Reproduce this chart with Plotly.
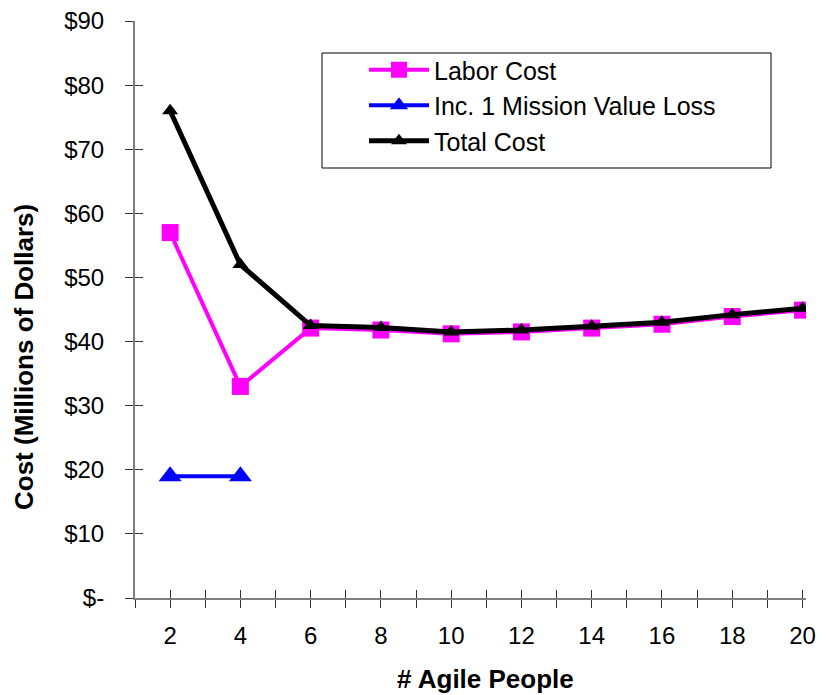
import plotly.graph_objects as go

agile_people = [2, 4, 6, 8, 10, 12, 14, 16, 18, 20]
labor_cost = [57.0, 33.0, 42.1, 41.8, 41.2, 41.5, 42.1, 42.7, 43.9, 44.9]
mission_loss_x = [2, 4]
mission_loss = [19.0, 19.0]
total_cost = [76.0, 52.0, 42.5, 42.2, 41.5, 41.8, 42.4, 43.0, 44.2, 45.2]

y_tickvals = [0, 10, 20, 30, 40, 50, 60, 70, 80, 90]
y_ticktext = ["$-", "$10", "$20", "$30", "$40", "$50", "$60", "$70", "$80", "$90"]
x_tickvals = list(range(1, 21))
x_ticktext = [str(v) if v % 2 == 0 else "" for v in x_tickvals]
x_title = "# Agile People"
y_title = "Cost (Millions of Dollars)"

FONT = "Arial, Liberation Sans, sans-serif"
# the page has an 8px body margin, so the figure is drawn 8px smaller and offset
PAGE_OFF = 8
W, H = 829 - PAGE_OFF, 695 - PAGE_OFF
L, R, T, B = 135 - PAGE_OFF, 23, 21 - PAGE_OFF, 97
PW, PH = W - L - R, H - T - B
PL, PB = 135, 21 + PH  # plot-area left / bottom in page pixels


def px(xp):
    return (xp - PL) / PW


def py(yp):
    return (PB - yp) / PH


fig = go.Figure()
fig.add_trace(go.Scatter(
    x=agile_people, y=labor_cost, name="Labor Cost", mode="lines+markers",
    line=dict(color="#FF00FF", width=4),
    marker=dict(symbol="square", size=17, color="#FF00FF")))
fig.add_trace(go.Scatter(
    x=mission_loss_x, y=mission_loss, name="Inc. 1 Mission Value Loss", mode="lines+markers",
    line=dict(color="#0000FF", width=4),
    marker=dict(symbol="triangle-up", size=20, color="#0000FF")))
fig.add_trace(go.Scatter(
    x=agile_people, y=total_cost, name="Total Cost", mode="lines+markers",
    line=dict(color="#000000", width=5),
    marker=dict(symbol="triangle-up", size=14, color="#000000")))
# helper trace for the inner half of the crossing tick marks
fig.add_trace(go.Scatter(x=[1], y=[0], xaxis="x2", yaxis="y2", mode="markers",
                         marker=dict(opacity=0), showlegend=False, hoverinfo="skip"))

fig.update_layout(
    width=W, height=H,
    margin=dict(l=L, r=R, t=T, b=B, autoexpand=False),
    paper_bgcolor="white", plot_bgcolor="white",
    font=dict(family=FONT, size=24, color="black"),
    showlegend=True,
    legend=dict(x=px(364), y=py(47), xanchor="left", yanchor="top",
                bgcolor="rgba(0,0,0,0)", borderwidth=0,
                font=dict(family=FONT, size=25, color="black"),
                itemwidth=60, tracegroupgap=0),
    xaxis=dict(range=[1, 20.1], tickmode="array", tickvals=x_tickvals, ticktext=x_ticktext,
               automargin=False, ticklabeloverflow="allow",
               showgrid=False, zeroline=False, showline=True, linecolor="#7f7f7f", linewidth=2,
               ticks="outside", ticklen=8, tickcolor="#333", tickwidth=1,
               tickfont=dict(size=24), ticklabelstandoff=7),
    yaxis=dict(range=[0, 90], tickmode="array", tickvals=y_tickvals, ticktext=y_ticktext,
               automargin=False, ticklabeloverflow="allow",
               showgrid=False, zeroline=False, showline=True, linecolor="#7f7f7f", linewidth=2,
               ticks="outside", ticklen=8, tickcolor="#333", tickwidth=1,
               tickfont=dict(size=24), ticklabelstandoff=16),
    xaxis2=dict(range=[1, 20.1], overlaying="x", tickmode="array", tickvals=x_tickvals,
                showticklabels=False, showgrid=False, zeroline=False, showline=False,
                ticks="inside", ticklen=8, tickcolor="#333", tickwidth=1),
    yaxis2=dict(range=[0, 90], overlaying="y", tickmode="array", tickvals=y_tickvals,
                showticklabels=False, showgrid=False, zeroline=False, showline=False,
                ticks="inside", ticklen=8, tickcolor="#333", tickwidth=1),
    shapes=[dict(type="rect", xref="paper", yref="paper",
                 x0=px(322), x1=px(771), y0=py(168), y1=py(53),
                 line=dict(color="black", width=1), fillcolor="rgba(0,0,0,0)")],
    annotations=[
        dict(text="<b>" + x_title + "</b>", xref="paper", yref="paper",
             x=px(485), y=py(679), xanchor="center", yanchor="middle",
             showarrow=False, font=dict(size=26)),
        dict(text="<b>" + y_title + "</b>", xref="paper", yref="paper",
             x=px(24), y=py(357), xanchor="center", yanchor="middle", textangle=-90,
             showarrow=False, font=dict(size=26)),
    ],
)

fig.write_html("out.html")
